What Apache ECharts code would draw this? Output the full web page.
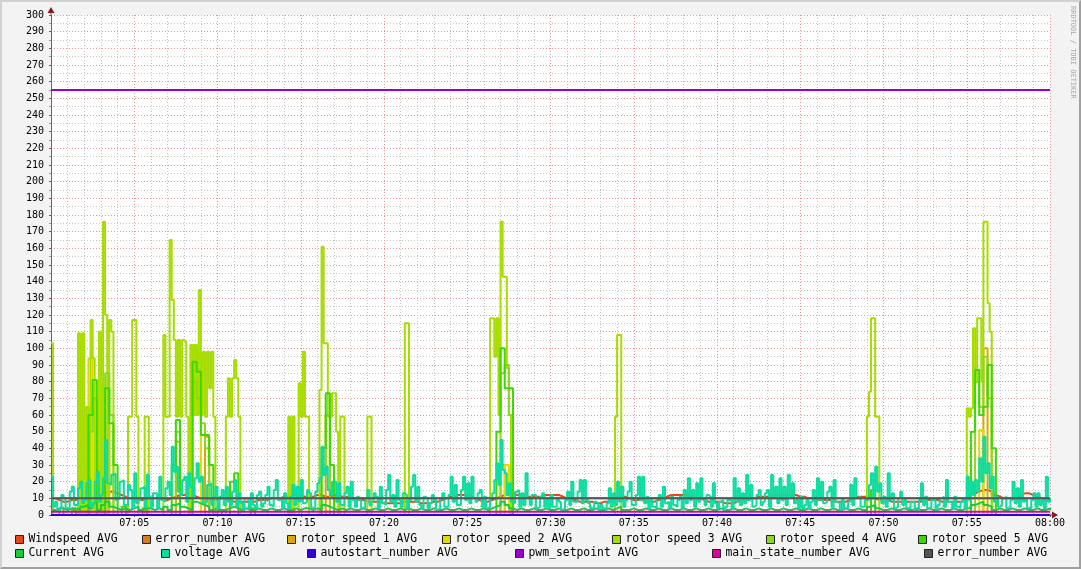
<!DOCTYPE html>
<html><head><meta charset="utf-8">
<script src="https://cdn.jsdelivr.net/npm/echarts@6/dist/echarts.min.js"></script>
<style>
html,body{margin:0;padding:0;background:#f3f3f3;overflow:hidden;}
#c{position:absolute;left:0;top:0;width:1081px;height:569px;}
#frame{position:absolute;left:0;top:0;width:1081px;height:569px;box-sizing:border-box;border-top:2px solid #d2d2d2;border-left:2px solid #d2d2d2;border-right:2px solid #a0a0a0;border-bottom:2px solid #a0a0a0;pointer-events:none;}
</style></head>
<body><div id="c"></div><div id="frame"></div>
<script>
// ---------- data: 07:00 .. 08:00, each array evenly sampled over the hour ----------
const SPAN_MIN = 60;
const xTickLabels = ['07:00','07:05','07:10','07:15','07:20','07:25','07:30','07:35','07:40','07:45','07:50','07:55','08:00'];

// 15 s samples (241)
const windspeed = [
10,9,8,8,9,9,10,10,9,8,
9,11,13,14,14,13,12,11,10,10,
9,9,9,10,10,10,9,9,10,11,
12,12,13,12,11,10,10,9,9,9,
10,10,9,8,8,8,8,8,8,9,
9,9,10,10,10,11,11,12,12,12,
11,11,11,12,12,11,11,12,12,11,
11,10,10,9,9,8,8,8,8,7,
7,7,7,7,8,8,8,8,7,7,
7,8,8,9,10,11,11,12,12,12,
11,10,9,8,8,9,10,11,12,13,
13,12,12,11,11,11,11,11,12,12,
12,12,11,10,9,9,8,8,8,8,
7,7,8,8,9,10,11,11,10,9,
9,9,8,8,8,9,10,11,12,12,
12,12,12,11,10,10,9,8,8,8,
8,7,7,7,8,9,9,10,10,11,
11,11,11,12,12,12,12,12,12,11,
11,10,10,9,9,9,9,8,8,8,
8,9,10,11,11,11,10,10,9,9,
9,8,8,8,8,8,8,8,8,9,
9,9,9,8,8,8,8,8,8,9,
11,13,14,15,15,14,12,11,10,10,
10,11,12,13,13,12,11,10,9,9,9];

const errorNumberA = [10, 10];

// 15 s samples (241)
const rotor1 = [
0,0,0,0,0,0,0,0,0,0,
0,0,0,55,0,0,0,0,0,0,
0,0,0,0,0,0,0,0,0,0,
44,0,0,0,0,0,0,47,0,0,
0,0,0,0,0,0,0,0,0,0,
0,0,0,0,0,0,0,0,0,0,
0,0,0,0,0,0,60,0,0,0,
0,0,0,0,0,0,0,0,0,0,
0,0,0,0,0,0,0,0,0,0,
0,0,0,0,0,0,0,0,0,0,
0,0,0,0,0,0,0,0,30,0,
0,0,0,0,0,0,0,0,0,0,
0,0,0,0,0,0,0,0,0,0,
0,0,0,0,0,0,0,0,0,0,
0,0,0,0,0,0,0,0,0,0,
0,0,0,0,0,0,0,0,0,0,
0,0,0,0,0,0,0,0,0,0,
0,0,0,0,0,0,0,0,0,0,
0,0,0,0,0,0,0,0,0,0,
0,0,0,0,0,0,0,0,0,0,
0,0,0,0,0,0,0,0,0,0,
0,0,0,0,0,0,0,0,0,0,
0,0,0,0,100,0,0,0,0,0,
0,0,0,0,0,0,0,0,0,0,0];

const rotor2 = [
0,0,0,0,0,0,0,0,0,94,
0,0,0,0,0,0,0,0,0,0,
0,0,0,0,0,0,0,0,0,0,
0,0,0,0,102,95,0,0,0,0,
0,0,0,0,0,0,0,0,0,0,
0,0,0,0,0,0,0,0,0,0,
0,0,0,0,0,0,0,0,0,0,
0,0,0,0,0,0,0,0,0,0,
0,0,0,0,0,0,0,0,0,0,
0,0,0,0,0,0,0,0,0,0,
0,0,0,0,0,0,0,0,0,30,
0,0,0,0,0,0,0,0,0,0,
0,0,0,0,0,0,0,0,0,0,
0,0,0,0,0,0,0,0,0,0,
0,0,0,0,0,0,0,0,0,0,
0,0,0,0,0,0,0,0,0,0,
0,0,0,0,0,0,0,0,0,0,
0,0,0,0,0,0,0,0,0,0,
0,0,0,0,0,0,0,0,0,0,
0,0,0,0,0,0,0,0,0,0,
0,0,0,0,0,0,0,0,0,0,
0,0,0,0,0,0,0,0,0,0,
0,0,0,51,0,0,0,0,0,0,
0,0,0,0,0,0,0,0,0,0,0];

// 7.5 s samples (481)
const rotor3 = [
103,0,0,0,0,0,0,0,0,0,0,0,0,109,0,109,0,65,0,117,
94,0,0,110,0,176,120,0,117,110,0,0,0,0,0,0,0,59,59,117,
117,59,0,0,0,59,59,0,0,0,0,0,0,0,108,59,59,165,129,105,
59,105,59,105,104,59,0,102,60,102,60,135,60,98,59,98,76,98,59,0,
0,0,0,0,59,82,59,82,93,82,59,0,0,0,0,0,0,0,0,0,
0,0,0,0,0,0,0,0,0,0,0,0,0,0,59,0,59,0,0,79,
59,98,59,59,0,0,0,0,0,75,161,103,103,59,59,73,73,50,0,59,
59,0,0,0,0,0,0,0,0,0,0,0,59,59,0,0,0,0,0,0,
0,0,0,0,0,0,0,0,0,0,115,115,0,0,0,0,0,0,0,0,
0,0,0,0,0,0,0,0,0,0,0,0,0,0,0,0,0,0,0,0,
0,0,0,0,0,0,0,0,0,0,0,118,118,95,118,60,176,143,143,88,
60,0,0,0,0,0,0,0,0,0,0,0,0,0,0,0,0,0,0,0,
0,0,0,0,0,0,0,0,0,0,0,0,0,0,0,0,0,0,0,0,
0,0,0,0,0,0,0,0,0,0,0,59,108,108,0,0,0,0,0,0,
0,0,0,0,0,0,0,0,0,0,0,0,0,0,0,0,0,0,0,0,
0,0,0,0,0,0,0,0,0,0,0,0,0,0,0,0,0,0,0,0,
0,0,0,0,0,0,0,0,0,0,0,0,0,0,0,0,0,0,0,0,
0,0,0,0,0,0,0,0,0,0,0,0,0,0,0,0,0,0,0,0,
0,0,0,0,0,0,0,0,0,0,0,0,0,0,0,0,0,0,0,0,
0,0,0,0,0,0,0,0,0,0,0,0,59,74,118,118,59,59,0,0,
0,0,0,0,0,0,0,0,0,0,0,0,0,0,0,0,0,0,0,0,
0,0,0,0,0,0,0,0,0,0,0,0,0,0,0,0,0,0,0,0,
64,59,64,112,80,118,118,80,176,176,127,110,0,0,0,0,0,0,0,0,
0,0,0,0,0,0,0,0,0,0,0,0,0,0,0,0,0,0,0,0,
0];

// 15 s samples (241)
const rotor4 = [
0,0,0,0,0,0,0,0,0,50,
70,0,0,85,60,0,0,0,0,0,
0,0,0,0,0,0,0,0,0,0,
50,0,0,0,80,70,55,40,0,0,
0,0,0,0,0,0,0,0,0,0,
0,0,0,0,0,0,0,0,0,0,
0,0,0,0,0,30,60,0,0,0,
0,0,0,0,0,0,0,0,0,0,
0,0,0,0,0,0,0,0,0,0,
0,0,0,0,0,0,0,0,0,0,
0,0,0,0,0,0,0,0,85,90,
60,0,0,0,0,0,0,0,0,0,
0,0,0,0,0,0,0,0,0,0,
0,0,0,0,0,0,0,0,0,0,
0,0,0,0,0,0,0,0,0,0,
0,0,0,0,0,0,0,0,0,0,
0,0,0,0,0,0,0,0,0,0,
0,0,0,0,0,0,0,0,0,0,
0,0,0,0,0,0,0,0,0,0,
0,0,0,0,0,0,0,0,0,0,
0,0,0,0,0,0,0,0,0,0,
0,0,0,0,0,0,0,0,0,0,
0,0,80,65,95,70,0,0,0,0,
0,0,0,0,0,0,0,0,0,0,0];

const rotor5 = [
0,0,4,0,0,3,0,0,0,60,
81,0,0,76,55,30,0,5,0,0,
0,0,4,0,0,0,0,0,0,30,
57,0,0,0,92,86,48,48,30,0,
3,0,0,20,25,0,0,0,4,0,
0,0,0,0,0,0,0,0,0,0,
0,0,0,0,0,40,73,30,0,0,
0,0,0,0,0,0,0,0,0,0,
0,0,0,0,0,0,0,0,0,0,
0,0,0,0,0,0,0,0,0,0,
0,0,0,0,0,0,0,50,100,76,
76,0,0,0,0,0,0,0,0,0,
0,0,0,0,0,0,0,0,0,0,
0,0,0,0,0,0,0,0,0,0,
0,0,0,0,0,0,0,0,0,0,
0,0,0,0,0,0,0,0,0,0,
0,0,0,0,0,0,0,0,0,0,
0,0,0,0,0,0,0,0,0,0,
0,0,0,0,0,0,0,0,0,0,
0,0,0,0,0,0,0,15,0,0,
0,0,0,0,0,0,0,0,0,0,
0,0,0,0,0,0,0,0,0,0,
0,50,87,60,65,90,40,0,0,0,
0,0,0,0,0,0,0,0,0,0,0];

const current = [
3,2,4,3,4,4,3,5,6,4,
7,3,6,8,5,4,3,4,3,4,
5,3,4,4,3,4,3,5,3,6,
7,5,4,3,8,7,6,5,3,4,
3,3,4,5,4,3,4,3,3,4,
3,3,4,3,3,4,3,3,4,3,
4,4,3,4,3,6,5,4,3,4,
3,4,3,3,4,3,3,4,3,3,
4,3,3,4,3,4,3,3,4,3,
3,4,3,3,4,3,3,4,3,3,
4,3,3,4,3,4,5,6,8,6,
4,3,4,3,3,4,3,3,4,3,
3,4,3,3,4,3,3,4,3,3,
4,3,3,4,3,4,5,3,3,4,
3,3,4,3,3,4,3,3,4,3,
3,4,3,3,4,3,3,4,3,3,
4,3,3,4,3,3,4,3,3,4,
3,3,4,3,3,4,3,3,4,3,
3,4,3,3,4,3,3,4,3,3,
4,3,3,4,3,3,5,6,4,3,
3,4,3,3,4,3,3,4,3,3,
4,3,3,4,3,3,4,3,3,4,
4,6,7,8,6,5,3,4,3,3,
4,3,3,4,3,3,4,3,3,4,3];

// 7.5 s samples (481)
const voltage = [
23,5,8,3,4,12,10,4,5,14,17,6,6,16,20,7,9,19,21,5,
7,20,26,8,12,22,45,19,18,24,25,9,10,20,21,6,6,18,15,4,
25,7,9,16,17,5,24,11,5,13,13,4,23,9,8,16,20,12,41,26,
29,14,12,21,23,8,25,17,10,22,31,20,23,7,8,18,19,6,11,17,
4,11,15,6,17,8,6,14,21,5,13,7,3,10,9,4,13,6,4,12,
14,5,7,12,17,6,5,15,21,9,10,4,13,7,4,11,18,6,17,8,
21,7,8,15,13,4,5,14,19,22,41,24,29,15,12,20,20,8,19,6,
6,13,17,5,20,9,5,11,9,4,4,10,15,6,8,13,11,4,17,7,
6,15,24,8,12,5,21,9,5,13,12,4,9,17,24,8,17,6,4,11,
10,4,7,12,9,3,4,10,13,5,5,12,23,8,18,6,6,15,23,9,
19,7,23,10,8,13,15,5,11,4,5,10,13,21,31,18,45,27,25,12,
19,8,7,14,15,5,13,6,25,10,6,12,12,4,5,11,13,5,9,4,
12,5,5,10,8,3,4,9,14,6,20,8,8,14,21,7,21,9,7,4,
4,8,7,3,6,4,3,7,16,5,13,6,20,8,17,5,9,14,20,6,
6,12,23,9,23,7,11,4,9,5,4,10,12,5,17,7,8,4,11,6,
5,9,11,4,15,7,22,9,15,5,19,8,22,10,6,12,11,5,19,7,
4,8,9,3,5,9,9,4,22,8,16,6,13,7,24,9,18,5,6,12,
15,6,8,13,15,5,24,10,17,7,22,9,17,6,24,11,19,7,9,4,
11,4,6,9,4,8,15,6,22,9,20,7,8,14,17,5,21,8,7,3,
9,4,4,8,18,6,22,10,11,5,5,9,9,18,25,10,29,14,19,7,
11,5,25,9,13,4,5,10,14,6,9,4,4,8,8,3,3,9,19,6,
11,4,5,9,9,3,6,10,11,5,21,8,8,4,11,5,4,8,10,4,
23,9,20,12,21,14,34,20,47,25,31,16,23,8,11,5,6,10,11,4,
4,9,20,7,16,5,21,8,10,4,4,9,13,5,13,6,9,4,23,8,
10];

const autostartNumber = [0, 0];
const pwmSetpoint = [255, 255];
const mainStateNumber = [2, 2];
const errorNumberB = [10, 10];

const seriesNames = ['Windspeed AVG','error_number AVG','rotor speed 1 AVG','rotor speed 2 AVG','rotor speed 3 AVG','rotor speed 4 AVG','rotor speed 5 AVG','Current AVG','voltage AVG','autostart_number AVG','pwm_setpoint AVG','main_state_number AVG','error_number AVG '];
const seriesValues = [windspeed, errorNumberA, rotor1, rotor2, rotor3, rotor4, rotor5, current, voltage, autostartNumber, pwmSetpoint, mainStateNumber, errorNumberB];
const seriesColors = ['#e8461a','#d97c1d','#dca800','#dcdc00','#a6dc00','#8cd81e','#3cd800','#18cc40','#0cdca0','#3300dd','#9900cc','#e0009c','#555555'];

// ---------- layout ----------
const legendPos = [[15,534],[142,534],[287,534],[442,534],[612,534],[766,534],[918,534],
                   [15,548],[161,548],[307,548],[515,548],[712,548],[924,548]];
const FONT = 'DejaVu Sans Mono';

function toPairs(vals) {
  const step = SPAN_MIN / (vals.length - 1);
  return vals.map((v, i) => [i * step, v]);
}

const chart = echarts.init(document.getElementById('c'), null, {renderer: 'canvas'});
const option = {
  animation: false,
  backgroundColor: '#f3f3f3',
  grid: {left: 51, right: 31, top: 15, bottom: 54, show: true, backgroundColor: '#ffffff', borderWidth: 0},
  xAxis: {
    type: 'value', min: 0, max: 60, interval: 5,
    axisLine: {show: true, lineStyle: {color: '#666', width: 1}},
    axisTick: {show: true, length: 2, lineStyle: {color: '#666'}},
    minorTick: {show: false, splitNumber: 5},
    axisLabel: {fontFamily: FONT, fontSize: 10, color: '#000', margin: 3, showMinLabel: false,
      formatter: v => xTickLabels[Math.round(v / 5)]},
    splitLine: {show: true, lineStyle: {color: '#e89494', type: [1, 2], width: 1}},
    minorSplitLine: {show: true, lineStyle: {color: '#c4c4c4', type: [1, 2], width: 1}}
  },
  yAxis: {
    type: 'value', min: 0, max: 300, interval: 10,
    axisLine: {show: true, lineStyle: {color: '#666', width: 1}},
    axisTick: {show: true, length: 2, lineStyle: {color: '#666'}},
    minorTick: {show: true, splitNumber: 2, length: 2, lineStyle: {color: '#999'}},
    axisLabel: {fontFamily: FONT, fontSize: 10, color: '#000', margin: 7},
    splitLine: {show: true, lineStyle: {color: '#e89494', type: [1, 2], width: 1}},
    minorSplitLine: {show: true, lineStyle: {color: '#c4c4c4', type: [1, 2], width: 1}}
  },
  legend: seriesNames.map((n, i) => ({
    data: [n], left: legendPos[i][0], top: legendPos[i][1], padding: 0,
    icon: 'rect', itemWidth: 8, itemHeight: 8, selectedMode: false,
    itemStyle: {borderColor: '#222', borderWidth: 1},
    textStyle: {fontFamily: FONT, fontSize: 11.4, color: '#000'}
  })),
  series: seriesNames.map((n, i) => ({
    name: n, type: 'line', step: 'end', showSymbol: false, symbol: 'none',
    data: toPairs(seriesValues[i]), color: seriesColors[i],
    lineStyle: {width: 2, color: seriesColors[i]},
    emphasis: {disabled: true}, silent: true
  }))
};
chart.setOption(option);

// decorations: axis arrows + vertical credit text
const axisTopPx = chart.convertToPixel({gridIndex: 0}, [0, 300]);
const axisRightPx = chart.convertToPixel({gridIndex: 0}, [60, 0]);
chart.setOption({
  graphic: [
    {type: 'line', shape: {x1: axisTopPx[0], y1: axisTopPx[1], x2: axisTopPx[0], y2: axisTopPx[1] - 3}, style: {stroke: '#666', lineWidth: 1}},
    {type: 'polygon', shape: {points: [[axisTopPx[0], axisTopPx[1] - 8], [axisTopPx[0] - 3.5, axisTopPx[1] - 2], [axisTopPx[0] + 3.5, axisTopPx[1] - 2]]}, style: {fill: '#8b1a1a'}},
    {type: 'line', shape: {x1: axisRightPx[0], y1: axisRightPx[1], x2: axisRightPx[0] + 3, y2: axisRightPx[1]}, style: {stroke: '#666', lineWidth: 1}},
    {type: 'polygon', shape: {points: [[axisRightPx[0] + 8, axisRightPx[1]], [axisRightPx[0] + 2, axisRightPx[1] - 3.5], [axisRightPx[0] + 2, axisRightPx[1] + 3.5]]}, style: {fill: '#8b1a1a'}},
    {type: 'text', x: 1073, y: 6, rotation: -Math.PI / 2,
      style: {text: 'RRDTOOL / TOBI OETIKER', fill: '#a8a8a8', font: '7px "DejaVu Sans Mono"', align: 'left', verticalAlign: 'middle'}}
  ]
});
</script>
</body></html>
